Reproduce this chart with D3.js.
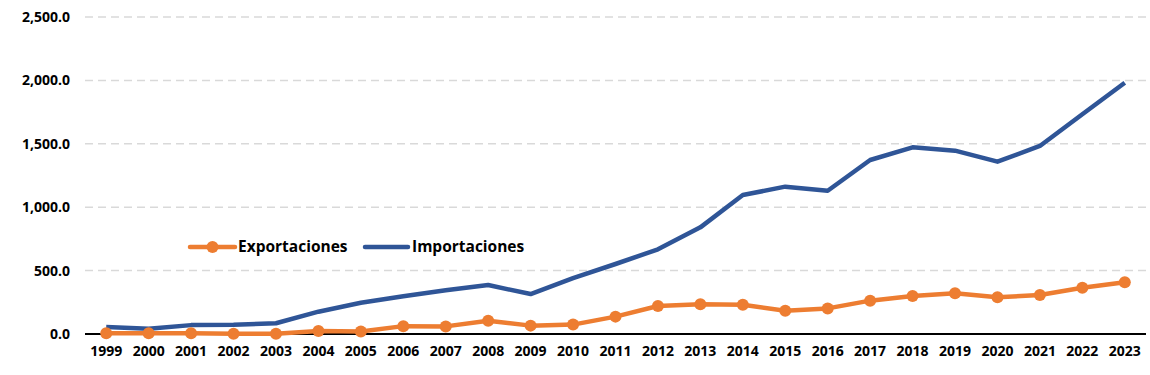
<!DOCTYPE html>
<html>
<head>
<meta charset="utf-8">
<script src="https://cdn.jsdelivr.net/npm/d3@7"></script>
<style>
  body { margin: 0; background: #fff; }
  text { font-family: "Open Sans", "Noto Sans", sans-serif; font-weight: bold; fill: #000; }
</style>
</head>
<body>
<div class="canvas"></div>
<script>
const years = ["1999","2000","2001","2002","2003","2004","2005","2006","2007","2008","2009","2010",
  "2011","2012","2013","2014","2015","2016","2017","2018","2019","2020","2021","2022","2023"];
const exportaciones = [5, 5, 5, 2, 2, 24, 20, 62, 60, 105, 66, 74, 137, 221, 234, 231, 184, 202, 263, 300, 321, 289, 307, 365, 408];
const importaciones = [55, 42, 70, 72, 85, 176, 247, 298, 345, 386, 315, 440, 552, 668, 841, 1096, 1162, 1130, 1372, 1472, 1446, 1359, 1483, 1733, 1982];
const yTicks = [0, 500, 1000, 1500, 2000, 2500];

const dims = { width: 1150, height: 375 };
const margin = { top: 17, right: 4, bottom: 41, left: 85 };

const svg = d3.select(".canvas").append("svg")
  .attr("width", dims.width)
  .attr("height", dims.height);

const x = d3.scalePoint()
  .domain(years)
  .range([margin.left, dims.width - margin.right])
  .padding(0.5);

const y = d3.scaleLinear()
  .domain([0, 2500])
  .range([dims.height - margin.bottom, margin.top]);

// gridlines
svg.append("g")
  .selectAll("line")
  .data(yTicks.filter(d => d > 0))
  .join("line")
  .attr("x1", margin.left)
  .attr("x2", dims.width - margin.right)
  .attr("y1", d => y(d))
  .attr("y2", d => y(d))
  .attr("stroke", "#d9d9d9")
  .attr("stroke-width", 1.5)
  .attr("stroke-dasharray", "8,5");

// y labels
const fmt = d3.format(",.1f");
svg.append("g")
  .selectAll("text")
  .data(yTicks)
  .join("text")
  .attr("x", 70)
  .attr("y", d => y(d))
  .attr("dy", "0.35em")
  .attr("text-anchor", "end")
  .attr("font-size", 14)
  .text(d => fmt(d));

// x labels
svg.append("g")
  .selectAll("text")
  .data(years)
  .join("text")
  .attr("x", d => x(d))
  .attr("y", y(0) + 22)
  .attr("text-anchor", "middle")
  .attr("font-size", 14)
  .text(d => d);

// baseline
svg.append("line")
  .attr("x1", margin.left)
  .attr("x2", dims.width - margin.right)
  .attr("y1", y(0))
  .attr("y2", y(0))
  .attr("stroke", "#000")
  .attr("stroke-width", 2);

const line = d3.line()
  .x((d, i) => x(years[i]))
  .y(d => y(d));

svg.append("path")
  .attr("d", line(importaciones))
  .attr("fill", "none")
  .attr("stroke", "#2F5597")
  .attr("stroke-width", 4.5)
  .attr("stroke-linejoin", "round");

svg.append("path")
  .attr("d", line(exportaciones))
  .attr("fill", "none")
  .attr("stroke", "#ED7D31")
  .attr("stroke-width", 4.5)
  .attr("stroke-linejoin", "round");

svg.append("g")
  .selectAll("circle")
  .data(exportaciones)
  .join("circle")
  .attr("cx", (d, i) => x(years[i]))
  .attr("cy", d => y(d))
  .attr("r", 6)
  .attr("fill", "#ED7D31");

// legend
const legend = svg.append("g").attr("transform", "translate(190, 247)");
legend.append("line")
  .attr("x1", 0).attr("x2", 45).attr("y1", 0).attr("y2", 0)
  .attr("stroke", "#ED7D31").attr("stroke-width", 4.5).attr("stroke-linecap", "round");
legend.append("circle")
  .attr("cx", 22.5).attr("cy", 0).attr("r", 6).attr("fill", "#ED7D31");
legend.append("text")
  .attr("x", 48).attr("y", 0).attr("dy", "0.35em")
  .attr("font-size", 15.5).text("Exportaciones");
legend.append("line")
  .attr("x1", 175).attr("x2", 218).attr("y1", 0).attr("y2", 0)
  .attr("stroke", "#2F5597").attr("stroke-width", 4.5).attr("stroke-linecap", "round");
legend.append("text")
  .attr("x", 222).attr("y", 0).attr("dy", "0.35em")
  .attr("font-size", 15.5).text("Importaciones");
</script>
</body>
</html>
